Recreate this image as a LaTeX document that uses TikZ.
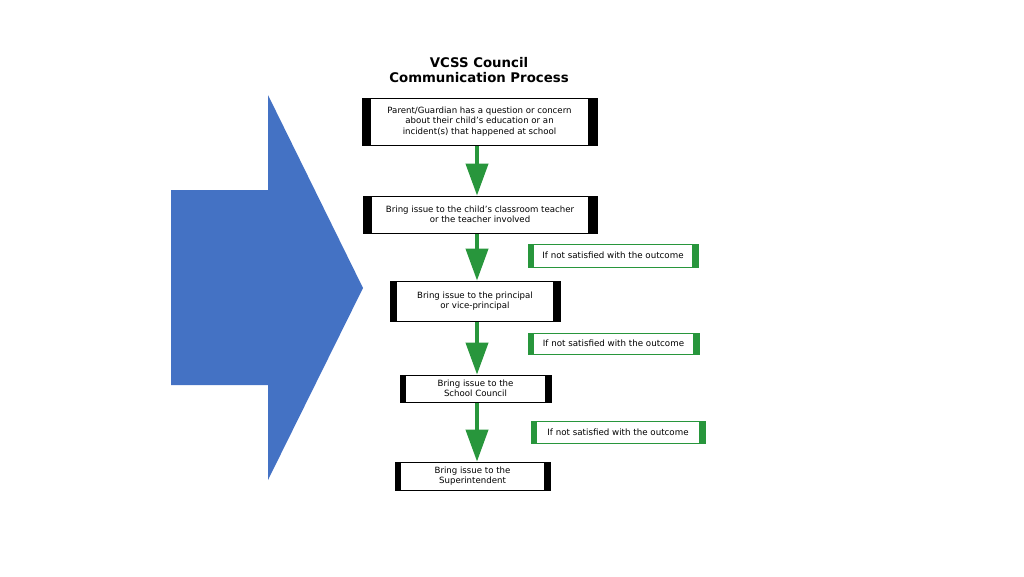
\documentclass[tikz,border=0pt]{standalone}
\usepackage{fontspec}
\setmainfont{DejaVu Sans}
\usetikzlibrary{arrows.meta,calc}
\definecolor{pblue}{HTML}{4472C4}
\definecolor{fgreen}{RGB}{40,150,60}
\tikzset{
  stepbox/.style={draw=black,line width=0.8pt,fill=white,align=center,font=\fontsize{8.6}{10.2}\selectfont,inner sep=0pt,
    path picture={\fill[black] (path picture bounding box.south west) rectangle ([xshift=#1]path picture bounding box.north west);
                  \fill[black] (path picture bounding box.south east) rectangle ([xshift=-#1]path picture bounding box.north east);}},
  stepbox/.default=9pt,
  notebox/.style={draw=fgreen,line width=0.8pt,fill=white,align=center,font=\fontsize{8.7}{10}\selectfont,inner sep=0pt,
    path picture={\fill[fgreen] (path picture bounding box.south west) rectangle ([xshift=6pt]path picture bounding box.north west);
                  \fill[fgreen] (path picture bounding box.south east) rectangle ([xshift=-6pt]path picture bounding box.north east);}},
  flow/.style={draw=fgreen,line width=4pt,-{Triangle[length=32pt,width=22pt]},fgreen}
}
\begin{document}
\begin{tikzpicture}[x=1pt,y=-1pt]
\useasboundingbox (0,0) rectangle (1024,576);
% big blue arrow
\fill[pblue] (171,190) -- (268,190) -- (268,95) -- (363,288) -- (268,480) -- (268,385) -- (171,385) -- cycle;
% title
\node[font=\bfseries\fontsize{13.3}{14.5}\selectfont,align=center] (title) at (479,70) {VCSS Council\\Communication Process};
% boxes
\node[stepbox,minimum width=235pt,minimum height=47pt] (b1) at (479.5,121.5) {Parent/Guardian has a question or concern\\about their child's education or an\\incident(s) that happened at school};
\node[stepbox,minimum width=234pt,minimum height=37pt] (b2) at (480,214.5) {Bring issue to the child's classroom teacher\\or the teacher involved};
\node[stepbox=7pt,minimum width=170pt,minimum height=40pt] (b3) at (475,301) {Bring issue to the principal\\or vice-principal};
\node[stepbox=6pt,minimum width=151pt,minimum height=27pt] (b4) at (475.5,388.5) {Bring issue to the\\School Council};
\node[stepbox=6pt,minimum width=155pt,minimum height=28pt] (b5) at (472.5,476) {Bring issue to the\\Superintendent};
% notes
\node[notebox,minimum width=170pt,minimum height=23pt] (n1) at (613,255.5) {If not satisfied with the outcome};
\node[notebox,minimum width=171pt,minimum height=21pt] (n2) at (613.5,343.5) {If not satisfied with the outcome};
\node[notebox,minimum width=174pt,minimum height=22pt] (n3) at (618,432) {If not satisfied with the outcome};
% arrows
\coordinate (ax) at (477,0);
\draw[flow] ($(b1.south -| ax)+(0,0.5)$) -- (b2.north -| ax);
\draw[flow] ($(b2.south -| ax)+(0,0.5)$) -- (b3.north -| ax);
\draw[flow] ($(b3.south -| ax)+(0,0.5)$) -- (b4.north -| ax);
\draw[flow] ($(b4.south -| ax)+(0,0.5)$) -- (b5.north -| ax);
\end{tikzpicture}
\end{document}
